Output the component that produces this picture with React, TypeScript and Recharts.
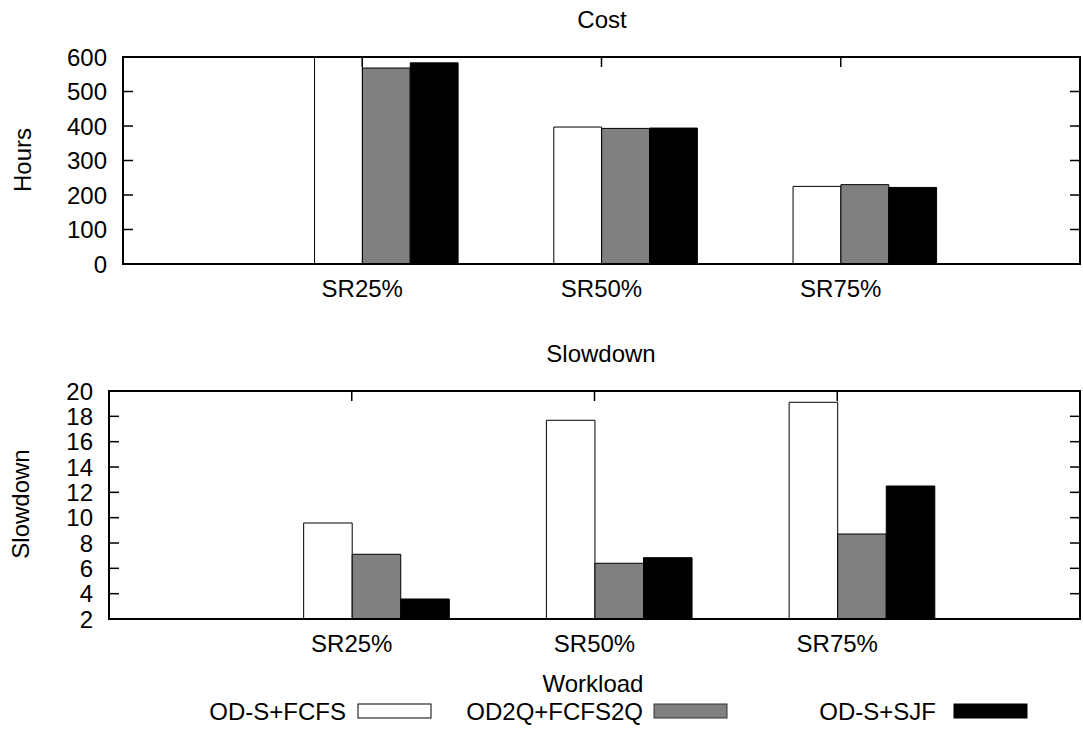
import React from 'react'
import { BarChart, Bar, XAxis, YAxis } from 'recharts'

// workloads on the x axis
const workloads = ['SR25%', 'SR50%', 'SR75%']

// series names (legend order)
const seriesNames = ['OD-S+FCFS', 'OD2Q+FCFS2Q', 'OD-S+SJF']
const seriesKeys = ['fcfs', 'fcfs2q', 'sjf']
const seriesFills = ['#ffffff', '#808080', '#000000']

// Cost (hours)
const costFcfs = [600, 397, 225]
const costFcfs2q = [568, 393, 230]
const costSjf = [583, 394, 222]
const costTicks = [0, 100, 200, 300, 400, 500, 600]

// Slowdown
const slowFcfs = [9.58, 17.69, 19.11]
const slowFcfs2q = [7.11, 6.4, 8.71]
const slowSjf = [3.58, 6.84, 12.5]
const slowTicks = [2, 4, 6, 8, 10, 12, 14, 16, 18, 20]

const costData = workloads.map((w, i) => ({
  workload: w,
  fcfs: costFcfs[i],
  fcfs2q: costFcfs2q[i],
  sjf: costSjf[i]
}))

const slowData = workloads.map((w, i) => ({
  workload: w,
  fcfs: slowFcfs[i],
  fcfs2q: slowFcfs2q[i],
  sjf: slowSjf[i]
}))

interface Box {
  left: number
  top: number
  right: number
  bottom: number
}

const topPlot: Box = { left: 123, top: 57, right: 1080, bottom: 264 }
const bottomPlot: Box = { left: 109, top: 391, right: 1080, bottom: 619 }

const FONT = '"Liberation Sans", Arial, Helvetica, sans-serif'

interface PanelProps {
  data: Array<Record<string, string | number>>
  plot: Box
  domain: [number, number]
  ticks: number[]
}

function Panel({ data, plot, domain, ticks }: PanelProps) {
  // gnuplot-like layout: 4 units across, bars 0.2 unit wide, tick at white/gray edge
  const unit = (plot.right - plot.left) / 4
  const barW = unit * 0.2
  const chartH = plot.bottom + 40

  const YTick = (props: any) => {
    const { y, payload } = props
    return (
      <g>
        <text x={plot.left - 16} y={y} textAnchor="end" dominantBaseline="central" fontSize={24} fill="#000">
          {payload.value}
        </text>
        <line x1={plot.left} x2={plot.left + 10} y1={y} y2={y} stroke="#000" strokeWidth={1.5} />
        <line x1={plot.right - 10} x2={plot.right} y1={y} y2={y} stroke="#000" strokeWidth={1.5} />
      </g>
    )
  }

  const XTick = (props: any) => {
    const { x, payload } = props
    const tx = x - barW / 2
    return (
      <g>
        <text x={tx} y={plot.bottom + 24} textAnchor="middle" dominantBaseline="central" fontSize={24} fill="#000">
          {payload.value}
        </text>
        <line x1={tx} x2={tx} y1={plot.top} y2={plot.top + 10} stroke="#000" strokeWidth={1.5} />
      </g>
    )
  }

  return (
    <div style={{ position: 'absolute', left: 0, top: 0 }}>
      <BarChart
        width={1083}
        height={chartH}
        data={data}
        margin={{ top: plot.top, right: 1083 - plot.right, bottom: 0, left: 0 }}
        barGap={0}
        barSize={barW}
      >
        <XAxis
          dataKey="workload"
          height={40}
          interval={0}
          padding={{ left: unit * 0.6, right: unit * 0.4 }}
          axisLine={false}
          tickLine={false}
          tick={XTick}
        />
        <YAxis
          width={plot.left}
          domain={domain}
          ticks={ticks}
          interval={0}
          allowDataOverflow
          axisLine={false}
          tickLine={false}
          tick={YTick}
        />
        {seriesKeys.map((k, i) => (
          <Bar
            key={k}
            dataKey={k}
            name={seriesNames[i]}
            fill={seriesFills[i]}
            stroke="#000"
            strokeWidth={1}
            isAnimationActive={false}
          />
        ))}
      </BarChart>
      <div
        style={{
          position: 'absolute',
          left: plot.left - 1,
          top: plot.top - 1,
          width: plot.right - plot.left + 2,
          height: plot.bottom - plot.top + 2,
          border: '2px solid #000',
          boxSizing: 'border-box',
          pointerEvents: 'none'
        }}
      />
    </div>
  )
}

// legend entries: text right edge, sample box left..right
const legendTextRight = [346, 643, 936]
const legendBoxLeft = [358, 654, 954]
const legendBoxWidth = 73

export default function App() {
  return (
    <div
      style={{
        position: 'absolute',
        left: 0,
        top: 0,
        width: 1083,
        height: 742,
        background: '#fff',
        fontFamily: FONT,
        color: '#000'
      }}
    >
      <Panel data={costData} plot={topPlot} domain={[0, 600]} ticks={costTicks} />
      <Panel data={slowData} plot={bottomPlot} domain={[2, 20]} ticks={slowTicks} />
      <svg
        width={1083}
        height={742}
        style={{ position: 'absolute', left: 0, top: 0, pointerEvents: 'none', fontFamily: FONT }}
      >
        <text x={602} y={19} textAnchor="middle" dominantBaseline="central" fontSize={24}>Cost</text>
        <text x={601} y={353} textAnchor="middle" dominantBaseline="central" fontSize={24}>Slowdown</text>
        <text x={593} y={683} textAnchor="middle" dominantBaseline="central" fontSize={24}>Workload</text>
        <text x={22} y={160} textAnchor="middle" dominantBaseline="central" fontSize={24} transform="rotate(-90 22 160)">
          Hours
        </text>
        <text x={20} y={504} textAnchor="middle" dominantBaseline="central" fontSize={24} transform="rotate(-90 20 504)">
          Slowdown
        </text>
        {seriesNames.map((name, i) => (
          <g key={name}>
            <text x={legendTextRight[i]} y={711} textAnchor="end" dominantBaseline="central" fontSize={24}>
              {name}
            </text>
            <rect
              x={legendBoxLeft[i]}
              y={704}
              width={legendBoxWidth}
              height={14}
              fill={seriesFills[i]}
              stroke={i === 1 ? '#333' : '#000'}
              strokeWidth={1}
            />
          </g>
        ))}
      </svg>
    </div>
  )
}
